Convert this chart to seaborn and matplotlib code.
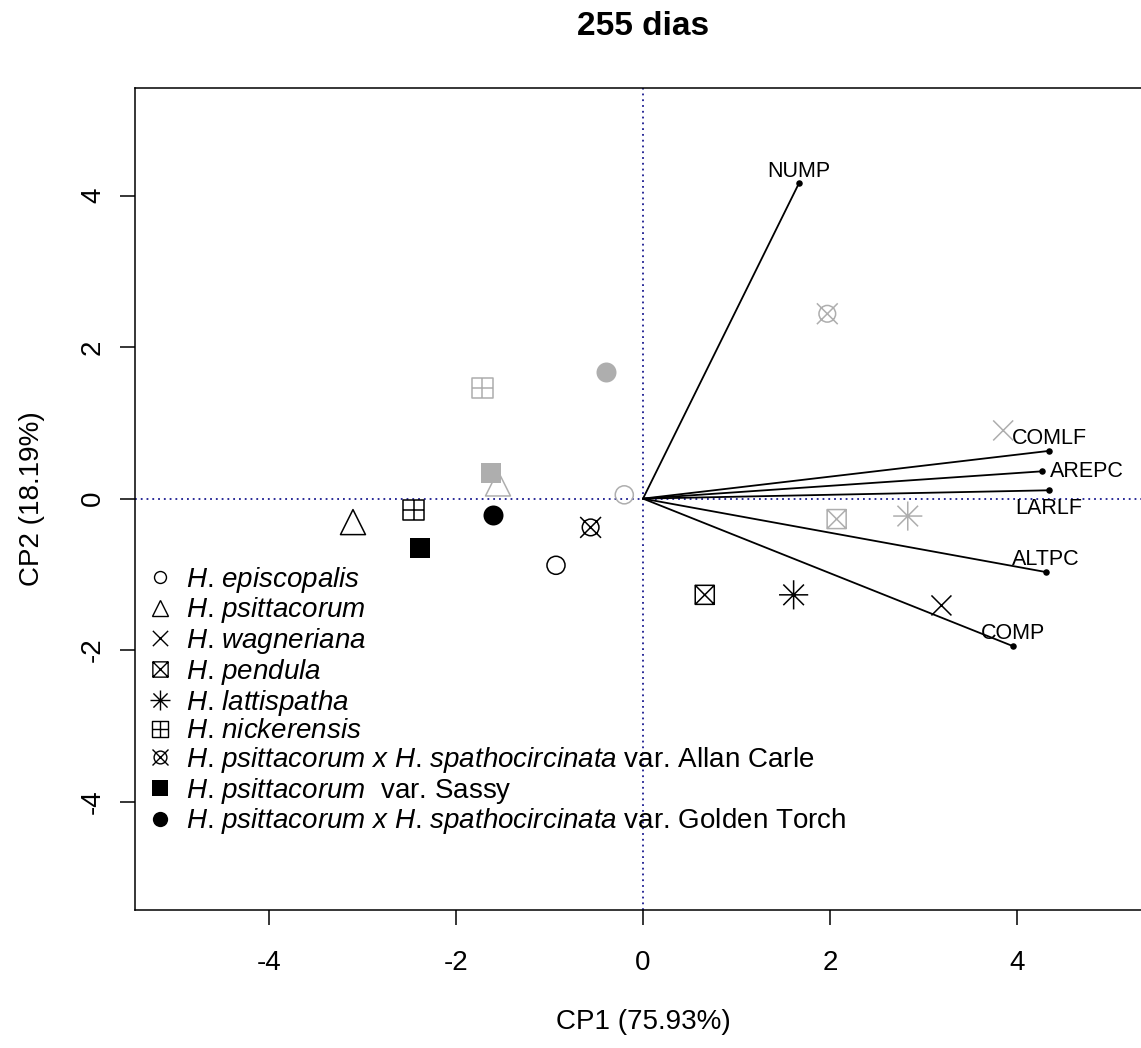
import numpy as np
import pandas as pd
import seaborn as sns
import matplotlib.pyplot as plt
from matplotlib.path import Path
from matplotlib.lines import Line2D

# especies (legenda) e escores dos dois momentos (preto / cinza)
especies = ["H. episcopalis", "H. psittacorum", "H. wagneriana", "H. pendula",
            "H. lattispatha", "H. nickerensis",
            "H. psittacorum x H. spathocircinata", "H. psittacorum",
            "H. psittacorum x H. spathocircinata"]
variedades = ["", "", "", "", "", "", " var. Allan Carle", "  var. Sassy",
              " var. Golden Torch"]

cp1_preto = [-0.93, -3.10, 3.19, 0.66, 1.61, -2.45, -0.56, -2.38, -1.60]
cp2_preto = [-0.88, -0.31, -1.41, -1.27, -1.27, -0.15, -0.38, -0.65, -0.22]
cp1_cinza = [-0.20, -1.55, 3.85, 2.07, 2.83, -1.72, 1.97, -1.63, -0.40]
cp2_cinza = [0.05, 0.20, 0.90, -0.27, -0.23, 1.46, 2.44, 0.34, 1.67]

# cargas das variaveis
variaveis = ["NUMP", "COMLF", "AREPC", "LARLF", "ALTPC", "COMP"]
carga_cp1 = [1.67, 4.34, 4.26, 4.34, 4.31, 3.96]
carga_cp2 = [4.17, 0.63, 0.36, 0.11, -0.97, -1.95]

eixo_x = "CP1 (75.93%)"
eixo_y = "CP2 (18.19%)"
titulo = "255 dias"
ticks = [-4, -2, 0, 2, 4]


# simbolos tipo R (pch 7, 8, 12, 13)
def linhas(*segs):
    verts, codes = [], []
    for seg in segs:
        verts += seg
        codes += [Path.MOVETO] + [Path.LINETO] * (len(seg) - 1)
    return Path(verts, codes)


quad = Path([(-1, -1), (1, -1), (1, 1), (-1, 1), (-1, -1)],
            [Path.MOVETO, Path.LINETO, Path.LINETO, Path.LINETO, Path.CLOSEPOLY])
m_x = linhas([(-1, -1), (1, 1)], [(-1, 1), (1, -1)])
m_box_x = Path.make_compound_path(quad, m_x)
m_box_plus = Path.make_compound_path(quad, linhas([(0, -1), (0, 1)], [(-1, 0), (1, 0)]))
r = 0.7071
m_ast = linhas([(-1, 0), (1, 0)], [(0, -1), (0, 1)], [(-r, -r), (r, r)], [(-r, r), (r, -r)])
circ = Path.unit_circle()
m_circ_x = Path.make_compound_path(Path(circ.vertices * 0.8, circ.codes), m_x)

marcadores = ["o", "^", m_x, m_box_x, m_ast, m_box_plus, m_circ_x, "s", "o"]
cheio = [False] * 7 + [True, True]
tam_plot = [13, 18, 14.4, 13.7, 21, 15, 15, 13.7, 14.4]
tam_leg = [8.6, 11, 11, 11, 14.4, 11, 11.5, 11, 11]

cores = {"preto": "#000000", "cinza": "#aeaeae"}

df = pd.concat([
    pd.DataFrame({"id": range(9), "CP1": cp1_preto, "CP2": cp2_preto, "grupo": "preto"}),
    pd.DataFrame({"id": range(9), "CP1": cp1_cinza, "CP2": cp2_cinza, "grupo": "cinza"}),
])
cargas = pd.DataFrame({"var": variaveis, "CP1": carga_cp1, "CP2": carga_cp2})

sns.set_theme(style="ticks")
plt.rcParams["font.family"] = ["Liberation Sans", "DejaVu Sans"]
plt.rcParams["mathtext.fontset"] = "custom"
plt.rcParams["mathtext.rm"] = "Liberation Sans"
plt.rcParams["mathtext.it"] = "Liberation Sans:italic"
plt.rcParams["mathtext.bf"] = "Liberation Sans:bold"
plt.rcParams["axes.unicode_minus"] = False
for k in ["text.color", "axes.labelcolor", "xtick.color", "ytick.color", "axes.edgecolor"]:
    plt.rcParams[k] = "black"

fig = plt.figure(figsize=(11.41, 10.48), dpi=100)
ax = fig.add_axes([135 / 1141, 138 / 1048, 1016 / 1141, 822 / 1048])

ax.axhline(0, color="#1a1a90", lw=1.3, ls=(0, (1, 2.2)), zorder=1)
ax.axvline(0, color="#1a1a90", lw=1.3, ls=(0, (1, 2.2)), zorder=1)

# vetores das variaveis
for _, row in cargas.iterrows():
    ax.plot([0, row.CP1], [0, row.CP2], color="black", lw=1.3, zorder=2)
sns.scatterplot(data=cargas, x="CP1", y="CP2", color="black", s=22,
                edgecolor="black", linewidth=0, ax=ax, legend=False, zorder=4)

posicoes = {"NUMP": (0, 8, "center"), "COMLF": (0, 8.6, "center"),
            "AREPC": (5.8, 0, "left"), "LARLF": (0, -13, "center"),
            "ALTPC": (0, 9.4, "center"), "COMP": (0, 9.4, "center")}
for _, row in cargas.iterrows():
    dx, dy, ha = posicoes[row["var"]]
    ax.annotate(row["var"], (row.CP1, row.CP2), xytext=(dx, dy),
                textcoords="offset points", ha=ha, va="center", fontsize=15.5,
                zorder=5)

# escores
for i in range(9):
    for grupo, cor in cores.items():
        sub = df[(df.id == i) & (df.grupo == grupo)]
        sns.scatterplot(data=sub, x="CP1", y="CP2", marker=marcadores[i],
                        s=tam_plot[i] ** 2, color=cor,
                        facecolor=cor if cheio[i] else "none",
                        edgecolor=cor, linewidth=0 if cheio[i] else 1.1,
                        ax=ax, legend=False, zorder=3)


def ital(s):
    # ponto fora do mathtext para evitar o espaco extra de pontuacao
    partes = []
    for w in s.split():
        if w.endswith("."):
            partes.append(r"$\mathit{" + w[:-1] + "}$.")
        else:
            partes.append(r"$\mathit{" + w + "}$")
    return " ".join(partes)


handles = [Line2D([], [], marker=marcadores[i], linestyle="none",
                  markersize=tam_leg[i], markeredgewidth=0 if cheio[i] else 1.0,
                  markerfacecolor="black" if cheio[i] else "none",
                  markeredgecolor="black") for i in range(9)]
labels = [ital(especies[i]) + variedades[i] for i in range(9)]
ax.legend(handles, labels, loc="upper left", bbox_to_anchor=(0.0138, 0.420),
          frameon=False, fontsize=20, handlelength=0.8, handletextpad=0.54,
          labelspacing=0.025, borderpad=0, borderaxespad=0)

ax.set_xlim(-5.43, 5.43)
ax.set_ylim(-5.43, 5.42)
ax.set_xticks(ticks)
ax.set_yticks(ticks)
ax.tick_params(length=10.8, width=1.1, labelsize=20, color="black", direction="out")
ax.tick_params(axis="x", pad=18)
ax.tick_params(axis="y", pad=10)
for lbl in ax.get_yticklabels():
    lbl.set_rotation(90)
    lbl.set_va("center")
for s in ax.spines.values():
    s.set_linewidth(1.1)
    s.set_color("black")

ax.set_xlabel(eixo_x, fontsize=20, labelpad=24)
ax.set_ylabel(eixo_y, fontsize=20, labelpad=25)
ax.set_title(titulo, fontsize=24, fontweight="bold", pad=38)

fig.savefig("out.png", dpi=100)
